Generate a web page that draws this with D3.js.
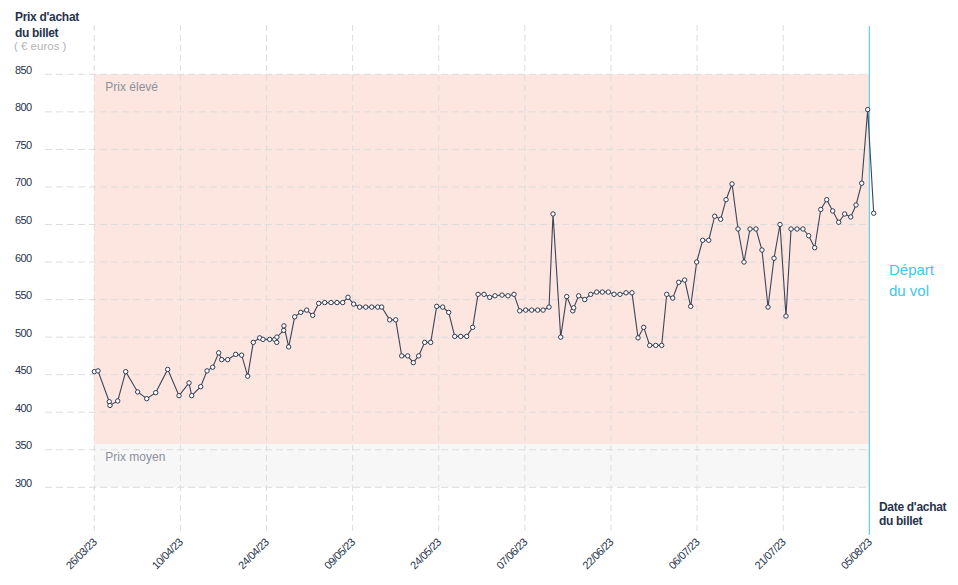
<!DOCTYPE html>
<html>
<head>
<meta charset="utf-8">
<script src="https://cdn.jsdelivr.net/npm/d3@7"></script>
<style>
  html, body { margin: 0; padding: 0; background: #fff; }
  svg { display: block; font-family: "Liberation Sans", Arial, sans-serif; }
</style>
</head>
<body>
<svg id="chart" width="958" height="585"></svg>
<script>
// ---- Data ----
const startDate = "26/03/23";
const totalDays = 132; // 26/03/23 -> 05/08/23 (departure)
const xTickLabels = ["26/03/23","10/04/23","24/04/23","09/05/23","24/05/23","07/06/23","22/06/23","06/07/23","21/07/23","05/08/23"];
const yTickValues = [300, 350, 400, 450, 500, 550, 600, 650, 700, 750, 800, 850];

// purchase time, in days since 26/03/23
const purchaseDays = [
  0, 0.63, 2.55, 2.67, 3.99, 5.35, 7.39, 8.93, 10.46, 12.5,
  14.43, 16.13, 16.59, 18.12, 19.2, 20.17, 21.19, 21.7, 22.72, 24.08,
  25.1, 26.13, 27.08, 28.17, 28.73, 29.87, 30.73, 31.07, 31.1, 32.26,
  32.3, 33.11, 34.13, 35.16, 36.18, 37.2, 38.22, 39.24, 40.32, 41.34,
  42.31, 43.21, 44.18, 45.2, 46.23, 47.25, 48.27, 48.95, 50.31, 51.34,
  52.36, 53.38, 54.33, 55.25, 56.28, 57.3, 58.32, 59.34, 60.36, 61.39,
  62.41, 63.43, 64.45, 65.36, 66.38, 67.35, 68.25, 69.44, 70.46, 71.49,
  72.46, 73.48, 74.5, 75.52, 76.43, 77.45, 78.13, 79.44, 80.46, 81.5,
  81.65, 82.5, 83.53, 84.55, 85.57, 86.53, 87.55, 88.52, 89.54, 90.56,
  91.58, 92.61, 93.58, 94.6, 95.62, 96.64, 97.5, 98.52, 99.54, 100.56,
  101.58, 102.6, 103.62, 104.65, 105.67, 106.69, 107.6, 108.62, 109.64, 110.66,
  111.68, 112.7, 113.72, 114.75, 115.77, 116.79, 117.81, 118.67, 119.69, 120.7,
  121.68, 122.7, 123.73, 124.75, 125.77, 126.79, 127.81, 128.84, 129.74, 130.71,
  131.73, 132.75
];
const ticketPrices = [
  454, 455, 414, 409, 415, 454, 427, 418, 426, 457,
  422, 439, 422, 434, 455, 460, 479, 470, 470, 477,
  476, 448, 493, 499, 497, 497, 497, 493, 500, 509,
  515, 487, 527, 533, 536, 529, 545, 546, 546, 546,
  546, 553, 544, 540, 540, 540, 540, 540, 523, 523,
  475, 475, 466, 475, 493, 493, 541, 540, 533, 501,
  501, 501, 513, 557, 557, 553, 555, 556, 555, 557,
  535, 536, 536, 536, 536, 540, 664, 500, 554, 535,
  539, 555, 550, 557, 560, 560, 560, 557, 557, 559,
  559, 499, 513, 489, 489, 489, 557, 552, 573, 576,
  541, 600, 629, 629, 661, 657, 683, 704, 644, 600,
  644, 644, 616, 540, 605, 650, 528, 644, 644, 644,
  635, 619, 670, 683, 668, 653, 664, 660, 676, 705,
  803, 665
];

// price zones
const zoneNames = ["Prix élevé", "Prix moyen"];
const zoneBounds = [[357, 850], [300, 357]];
const zoneColors = ["#fde6e0", "#f7f7f7"];

// ---- Chart ----
const svg = d3.select("#chart");
const x = d3.scaleLinear().domain([0, totalDays]).range([94.3, 869.3]);
const y = d3.scaleLinear().domain([300, 850]).range([487.3, 74.3]);

const navy = "#27334d";
const gridColor = "#dddddd";

// zones
zoneNames.forEach((name, i) => {
  const [lo, hi] = zoneBounds[i];
  svg.append("rect")
    .attr("x", x(0)).attr("width", x(totalDays) - x(0))
    .attr("y", y(hi)).attr("height", y(lo) - y(hi))
    .attr("fill", zoneColors[i]);
  svg.append("text")
    .attr("x", x(0) + 11).attr("y", y(hi) + 17)
    .attr("fill", "#8c8f9c").attr("font-size", 12)
    .text(name);
});

// horizontal grid + y labels
const yAxis = svg.append("g");
yAxis.selectAll("line").data(yTickValues).join("line")
  .attr("x1", 45).attr("x2", x(totalDays))
  .attr("y1", d => y(d)).attr("y2", d => y(d))
  .attr("stroke", gridColor).attr("stroke-dasharray", "7,4");
yAxis.selectAll("text").data(yTickValues).join("text")
  .attr("x", 15).attr("y", d => y(d) - 0.5)
  .attr("fill", navy).attr("font-size", 11).attr("letter-spacing", "-0.6")
  .text(d => d);

// vertical grid + x labels
const xTickPos = xTickLabels.map((l, i) => i * totalDays / (xTickLabels.length - 1));
const xAxis = svg.append("g");
xAxis.selectAll("line").data(xTickPos.slice(0, -1)).join("line")
  .attr("x1", d => x(d)).attr("x2", d => x(d))
  .attr("y1", 25).attr("y2", 535)
  .attr("stroke", gridColor).attr("stroke-dasharray", "6,4");
xAxis.selectAll("text").data(xTickLabels).join("text")
  .attr("transform", (d, i) => `translate(${x(xTickPos[i]) + 3},${543}) rotate(-45)`)
  .attr("text-anchor", "end")
  .attr("fill", navy).attr("font-size", 11).attr("letter-spacing", "-0.6")
  .text(d => d);

// departure line
svg.append("line")
  .attr("x1", x(totalDays)).attr("x2", x(totalDays))
  .attr("y1", 26).attr("y2", 535)
  .attr("stroke", "#3ec6ee").attr("stroke-width", 1);

// price line
const pts = purchaseDays.map((d, i) => ({ d, p: ticketPrices[i] }));
svg.append("path")
  .datum(pts)
  .attr("fill", "none")
  .attr("stroke", "#3a4659")
  .attr("stroke-width", 1.1)
  .attr("d", d3.line().x(v => x(v.d)).y(v => y(v.p)));
svg.append("g").selectAll("circle").data(pts).join("circle")
  .attr("cx", v => x(v.d)).attr("cy", v => y(v.p)).attr("r", 2.2)
  .attr("fill", "#fff").attr("stroke", "#2f3b52").attr("stroke-width", 1);

// titles
const t = svg.append("text").attr("fill", navy).attr("font-size", 12).attr("font-weight", "bold").attr("letter-spacing", "-0.3");
t.append("tspan").attr("x", 15).attr("y", 21).text("Prix d'achat");
t.append("tspan").attr("x", 15).attr("y", 37).text("du billet");
svg.append("text").attr("x", 14).attr("y", 50).attr("fill", "#b5b5b5").attr("font-size", 11.5)
  .text("( € euros )");

const dt = svg.append("text").attr("fill", navy).attr("font-size", 12).attr("font-weight", "bold").attr("letter-spacing", "-0.3");
dt.append("tspan").attr("x", 879).attr("y", 511).text("Date d'achat");
dt.append("tspan").attr("x", 879).attr("y", 525).text("du billet");

const dv = svg.append("text").attr("fill", "#3ec6ee").attr("font-size", 15);
dv.append("tspan").attr("x", 889).attr("y", 275).text("Départ");
dv.append("tspan").attr("x", 889).attr("y", 296).text("du vol");
</script>
</body>
</html>
